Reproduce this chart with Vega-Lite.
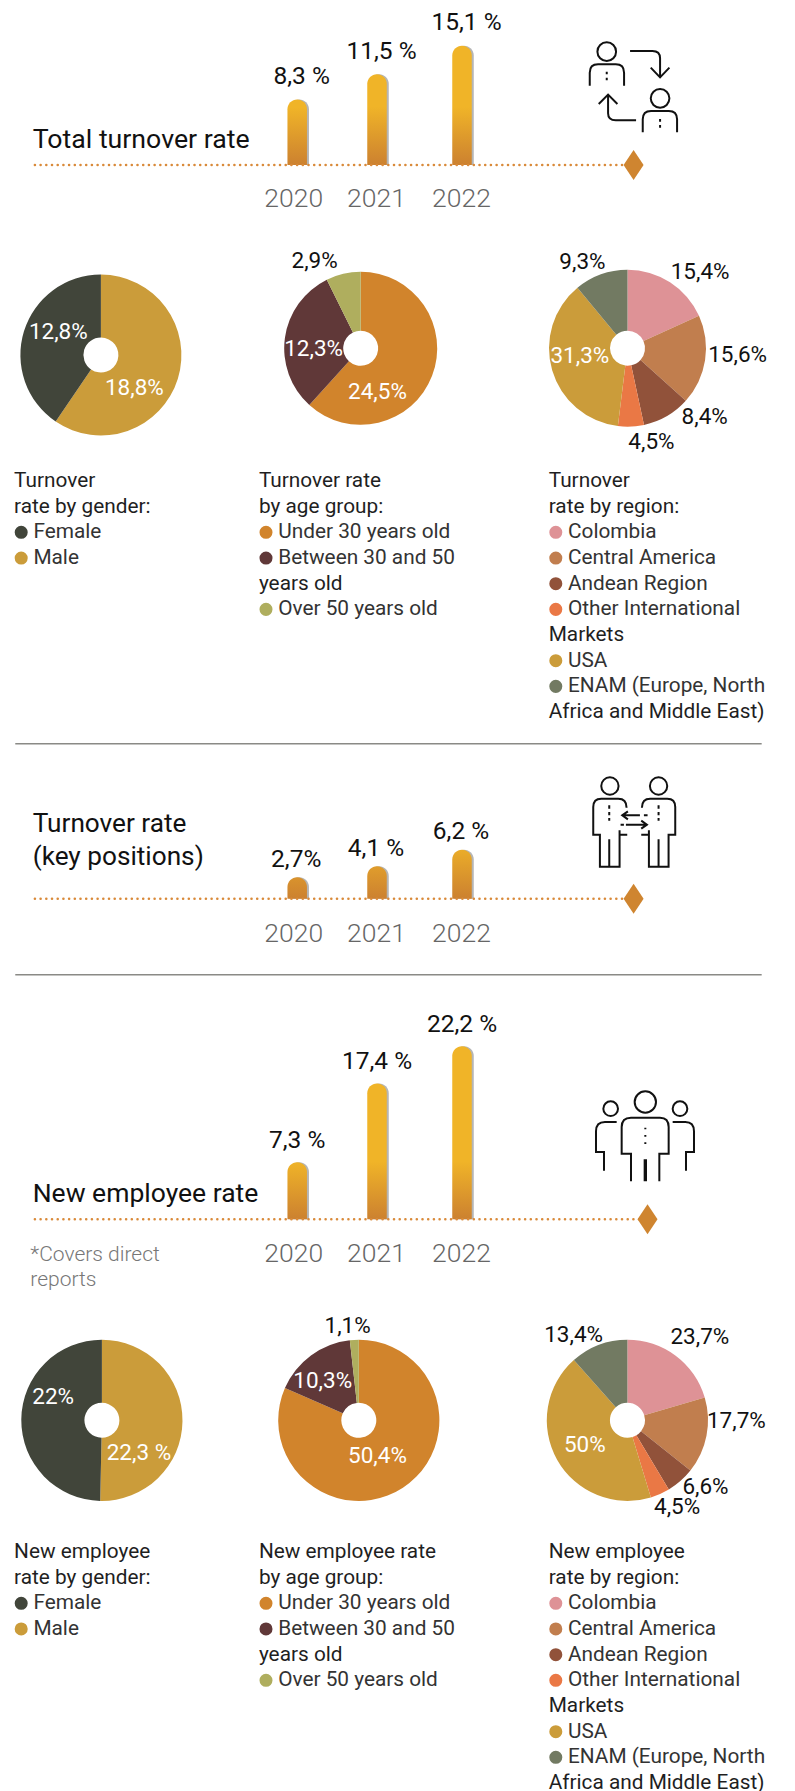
{
"$schema":"https://vega.github.io/schema/vega-lite/v6.json",
"padding":0,
"background":"white",
"spacing":0,
"config":{"view":{"stroke":null},"axis":{"grid":false},"text":{"font":"Roboto"}},
"vconcat":[
{"width":795,"height":240,
 "layer":[
  {"data":{"values":[{"year":2020,"value":8.3,"label":"8,3 %"},{"year":2021,"value":11.5,"label":"11,5 %"},{"year":2022,"value":15.1,"label":"15,1 %"}]},
   "encoding":{
   "x":{"field":"year","type":"quantitative","scale":{"domain":[2016,2020,2021,2022,2026],"range":[0,297.2,377,462,795],"nice":false,"zero":false},"axis":{"values":[2020,2021,2022],"format":"d","title":null,"domain":false,"ticks":false,"labelFont":"Roboto","labelFontWeight":300,"labelFontSize":26.5,"labelColor":"#666666","labelPadding":0,"offset":-54.5,"labelOffset":{"condition":{"test":"datum.value==2020","value":-4},"value":-1},"labelFlush":false,"labelOverlap":false}},
   "y":{"field":"value","type":"quantitative","stack":null,"scale":{"domain":[-9.494,20.886],"nice":false,"zero":false},"axis":null}},
   "layer":[
   {"mark":{"type":"bar","orient":"vertical","size":19.5,"xOffset":2,"color":"#b5b5b5","cornerRadiusEnd":9.7}},
   {"transform":[{"filter":"datum.year==2020"}],"mark":{"type":"bar","orient":"vertical","size":19.5,"cornerRadiusEnd":9.7,"color":{"gradient":"linear","x1":0,"x2":0,"y1":0,"y2":1,"stops":[{"offset":0,"color":"#f0b428"},{"offset":0.12,"color":"#f0b428"},{"offset":1,"color":"#cc8130"}]}}},
   {"transform":[{"filter":"datum.year==2021"}],"mark":{"type":"bar","orient":"vertical","size":19.5,"cornerRadiusEnd":9.7,"color":{"gradient":"linear","x1":0,"x2":0,"y1":0,"y2":1,"stops":[{"offset":0,"color":"#f0b428"},{"offset":0.356,"color":"#f0b428"},{"offset":1,"color":"#cc8130"}]}}},
   {"transform":[{"filter":"datum.year==2022"}],"mark":{"type":"bar","orient":"vertical","size":19.5,"cornerRadiusEnd":9.7,"color":{"gradient":"linear","x1":0,"x2":0,"y1":0,"y2":1,"stops":[{"offset":0,"color":"#f0b428"},{"offset":0.513,"color":"#f0b428"},{"offset":1,"color":"#cc8130"}]}}},
   {"mark":{"type":"text","font":"Roboto","fontSize":24.5,"color":"#111111","baseline":"middle","dx":4.5,"dy":-22.5},"encoding":{"text":{"field":"label"}}}
  ]},
  {"data":{"values":[{"line":"baseline"}]},"mark":{"type":"rule","color":"#d98a3a","strokeWidth":2.5,"strokeDash":[0.1,5.6],"strokeCap":"round"},"encoding":{"x":{"datum":2016.413,"type":"quantitative"},"x2":{"datum":2023.99},"y":{"datum":0,"type":"quantitative"}}},
  {"data":{"values":[{"caption":"Total turnover rate"}]},"mark":{"type":"text","font":"Roboto","fontSize":26.7,"color":"#111111","align":"left","baseline":"middle"},"encoding":{"x":{"datum":2016.383,"type":"quantitative"},"y":{"datum":3.16,"type":"quantitative"},"text":{"field":"caption"}}},
  {"data":{"values":[{"marker":"end"}]},"mark":{"type":"point","shape":"M0,-1.5L1,0L0,1.5L-1,0Z","size":400,"filled":true,"color":"#cf8530","opacity":1},"encoding":{"x":{"datum":2024.094,"type":"quantitative"},"y":{"datum":0,"type":"quantitative"}}},
  {"data":{"values":[{"icon":"rotation"}]},"mark":{"type":"point","size":0.4444,"filled":false,"stroke":"#111111","strokeWidth":2,"opacity":1,"shape":"M166,95A28,28 0 1,1 110,95A28,28 0 1,1 166,95ZM87,197V158Q87,133 112,133H165Q190,133 190,158V197M138,155V163M138,173V181M208,93H275Q298,93 298,115V170M270,143L298,172L326,143M326,235A28,28 0 1,1 270,235A28,28 0 1,1 326,235ZM246,337V298Q246,273 271,273H324Q349,273 349,298V337M298,297V305M298,315V323M226,301H165Q142,301 142,280V225M114,252L142,224L170,252"},"encoding":{"x":{"datum":2023.205,"type":"quantitative"},"y":{"datum":18.354,"type":"quantitative"}}}
 ]},
{"hconcat":[
 {"width":201.8,"height":230,"data":{"values":[{"i":1,"category":"Male","value":18.8,"label":"18,8%"},{"i":2,"category":"Female","value":12.8,"label":"12,8%"}]},
  "layer":[
  {"mark":{"type":"arc","outerRadius":80.5,"innerRadius":17.5},"encoding":{"theta":{"field":"value","type":"quantitative","stack":true},"order":{"field":"i"},"color":{"field":"category","type":"nominal","legend":null,"scale":{"domain":["Female","Male","Under 30 years old","Between 30 and 50 years old","Over 50 years old","Colombia","Central America","Andean Region","Other International Markets","USA","ENAM"],"range":["#41453a","#cb9c3a","#d1842c","#603838","#afae5e","#de9296","#c17e4e","#91523a","#ea7845","#cb9c3a","#727a62"]}}}},
  {"transform":[{"filter":"datum.i==1"}],"mark":{"type":"text","font":"Roboto","fontSize":22.5,"color":"white","baseline":"middle","dx":33.5,"dy":32.7},"encoding":{"text":{"field":"label"}}},
  {"transform":[{"filter":"datum.i==2"}],"mark":{"type":"text","font":"Roboto","fontSize":22.5,"color":"white","baseline":"middle","dx":-42.6,"dy":-23.3},"encoding":{"text":{"field":"label"}}}
 ]},
 {"width":317.4,"height":216.6,"data":{"values":[{"i":1,"category":"Under 30 years old","value":24.5,"label":"24,5%"},{"i":2,"category":"Between 30 and 50 years old","value":12.3,"label":"12,3%"},{"i":3,"category":"Over 50 years old","value":2.9,"label":"2,9%"}]},
  "layer":[
  {"mark":{"type":"arc","outerRadius":76.5,"innerRadius":17.5},"encoding":{"theta":{"field":"value","type":"quantitative","stack":true},"order":{"field":"i"},"color":{"field":"category","type":"nominal","legend":null,"scale":{"domain":["Female","Male","Under 30 years old","Between 30 and 50 years old","Over 50 years old","Colombia","Central America","Andean Region","Other International Markets","USA","ENAM"],"range":["#41453a","#cb9c3a","#d1842c","#603838","#afae5e","#de9296","#c17e4e","#91523a","#ea7845","#cb9c3a","#727a62"]}}}},
  {"transform":[{"filter":"datum.i==1"}],"mark":{"type":"text","font":"Roboto","fontSize":22.5,"color":"white","baseline":"middle","dx":16.8,"dy":43.4},"encoding":{"text":{"field":"label"}}},
  {"transform":[{"filter":"datum.i==2"}],"mark":{"type":"text","font":"Roboto","fontSize":22.5,"color":"white","baseline":"middle","dx":-47.1,"dy":0.7},"encoding":{"text":{"field":"label"}}},
  {"transform":[{"filter":"datum.i==3"}],"mark":{"type":"text","font":"Roboto","fontSize":22.5,"color":"#111111","baseline":"middle","dx":-46.1,"dy":-87.3},"encoding":{"text":{"field":"label"}}}
 ]},
 {"width":215,"height":216.4,"data":{"values":[{"i":1,"category":"Colombia","value":15.4,"label":"15,4%"},{"i":2,"category":"Central America","value":15.6,"label":"15,6%"},{"i":3,"category":"Andean Region","value":8.4,"label":"8,4%"},{"i":4,"category":"Other International Markets","value":4.5,"label":"4,5%"},{"i":5,"category":"USA","value":31.3,"label":"31,3%"},{"i":6,"category":"ENAM","value":9.3,"label":"9,3%"}]},
  "layer":[
  {"mark":{"type":"arc","outerRadius":78.5,"innerRadius":17.5},"encoding":{"theta":{"field":"value","type":"quantitative","stack":true},"order":{"field":"i"},"color":{"field":"category","type":"nominal","legend":null,"scale":{"domain":["Female","Male","Under 30 years old","Between 30 and 50 years old","Over 50 years old","Colombia","Central America","Andean Region","Other International Markets","USA","ENAM"],"range":["#41453a","#cb9c3a","#d1842c","#603838","#afae5e","#de9296","#c17e4e","#91523a","#ea7845","#cb9c3a","#727a62"]}}}},
  {"transform":[{"filter":"datum.i==1"}],"mark":{"type":"text","font":"Roboto","fontSize":22.5,"color":"#111111","baseline":"middle","dx":72.6,"dy":-76.5},"encoding":{"text":{"field":"label"}}},
  {"transform":[{"filter":"datum.i==2"}],"mark":{"type":"text","font":"Roboto","fontSize":22.5,"color":"#111111","baseline":"middle","dx":110.1,"dy":6.8},"encoding":{"text":{"field":"label"}}},
  {"transform":[{"filter":"datum.i==3"}],"mark":{"type":"text","font":"Roboto","fontSize":22.5,"color":"#111111","baseline":"middle","dx":77.2,"dy":68.5},"encoding":{"text":{"field":"label"}}},
  {"transform":[{"filter":"datum.i==4"}],"mark":{"type":"text","font":"Roboto","fontSize":22.5,"color":"#111111","baseline":"middle","dx":23.9,"dy":93.5},"encoding":{"text":{"field":"label"}}},
  {"transform":[{"filter":"datum.i==5"}],"mark":{"type":"text","font":"Roboto","fontSize":22.5,"color":"white","baseline":"middle","dx":-47.6,"dy":7.5},"encoding":{"text":{"field":"label"}}},
  {"transform":[{"filter":"datum.i==6"}],"mark":{"type":"text","font":"Roboto","fontSize":22.5,"color":"#111111","baseline":"middle","dx":-45.1,"dy":-86.5},"encoding":{"text":{"field":"label"}}}
 ]}
],"spacing":0,"bounds":"flush"},
{"hconcat":[
 {"width":259.6,"height":270,"data":{"values":[{"line":1,"kind":"plain","text":"Turnover"},{"line":2,"kind":"plain","text":"rate by gender:"},{"line":3,"kind":"item","text":"Female","category":"Female"},{"line":4,"kind":"item","text":"Male","category":"Male"}]},
  "encoding":{"y":{"field":"line","type":"quantitative","scale":{"domain":[0.649,11.167],"reverse":true,"zero":false,"nice":false},"axis":null}},
  "layer":[
  {"transform":[{"filter":"datum.kind=='plain'"}],"mark":{"type":"text","font":"Roboto","fontSize":20.8,"color":"#1f1f1f","align":"left","baseline":"middle"},"encoding":{"x":{"datum":0,"type":"quantitative","scale":{"domain":[-14.1,245.5],"nice":false,"zero":false},"axis":null},"text":{"field":"text"}}},
  {"transform":[{"filter":"datum.kind=='item'"}],"mark":{"type":"text","font":"Roboto","fontSize":20.8,"color":"#333333","align":"left","baseline":"middle"},"encoding":{"x":{"datum":19.3,"type":"quantitative","scale":{"domain":[-14.1,245.5],"nice":false,"zero":false},"axis":null},"text":{"field":"text"}}},
  {"transform":[{"filter":"datum.kind=='item'"}],"mark":{"type":"point","filled":true,"shape":"circle","size":170,"opacity":1},"encoding":{"x":{"datum":7.1,"type":"quantitative","scale":{"domain":[-14.1,245.5],"nice":false,"zero":false},"axis":null},"color":{"field":"category","type":"nominal","legend":null,"scale":{"domain":["Female","Male","Under 30 years old","Between 30 and 50 years old","Over 50 years old","Colombia","Central America","Andean Region","Other International Markets","USA","ENAM"],"range":["#41453a","#cb9c3a","#d1842c","#603838","#afae5e","#de9296","#c17e4e","#91523a","#ea7845","#cb9c3a","#727a62"]}}}}
 ]},
 {"width":290.6,"height":270,"data":{"values":[{"line":1,"kind":"plain","text":"Turnover rate"},{"line":2,"kind":"plain","text":"by age group:"},{"line":3,"kind":"item","text":"Under 30 years old","category":"Under 30 years old"},{"line":4,"kind":"item","text":"Between 30 and 50","category":"Between 30 and 50 years old"},{"line":5,"kind":"plain","text":"years old"},{"line":6,"kind":"item","text":"Over 50 years old","category":"Over 50 years old"}]},
  "encoding":{"y":{"field":"line","type":"quantitative","scale":{"domain":[0.649,11.167],"reverse":true,"zero":false,"nice":false},"axis":null}},
  "layer":[
  {"transform":[{"filter":"datum.kind=='plain'"}],"mark":{"type":"text","font":"Roboto","fontSize":20.8,"color":"#1f1f1f","align":"left","baseline":"middle"},"encoding":{"x":{"datum":0,"type":"quantitative","scale":{"domain":[1.1,291.7],"nice":false,"zero":false},"axis":null},"text":{"field":"text"}}},
  {"transform":[{"filter":"datum.kind=='item'"}],"mark":{"type":"text","font":"Roboto","fontSize":20.8,"color":"#333333","align":"left","baseline":"middle"},"encoding":{"x":{"datum":19.3,"type":"quantitative","scale":{"domain":[1.1,291.7],"nice":false,"zero":false},"axis":null},"text":{"field":"text"}}},
  {"transform":[{"filter":"datum.kind=='item'"}],"mark":{"type":"point","filled":true,"shape":"circle","size":170,"opacity":1},"encoding":{"x":{"datum":7.1,"type":"quantitative","scale":{"domain":[1.1,291.7],"nice":false,"zero":false},"axis":null},"color":{"field":"category","type":"nominal","legend":null,"scale":{"domain":["Female","Male","Under 30 years old","Between 30 and 50 years old","Over 50 years old","Colombia","Central America","Andean Region","Other International Markets","USA","ENAM"],"range":["#41453a","#cb9c3a","#d1842c","#603838","#afae5e","#de9296","#c17e4e","#91523a","#ea7845","#cb9c3a","#727a62"]}}}}
 ]},
 {"width":244.8,"height":270,"data":{"values":[{"line":1,"kind":"plain","text":"Turnover"},{"line":2,"kind":"plain","text":"rate by region:"},{"line":3,"kind":"item","text":"Colombia","category":"Colombia"},{"line":4,"kind":"item","text":"Central America","category":"Central America"},{"line":5,"kind":"item","text":"Andean Region","category":"Andean Region"},{"line":6,"kind":"item","text":"Other International","category":"Other International Markets"},{"line":7,"kind":"plain","text":"Markets"},{"line":8,"kind":"item","text":"USA","category":"USA"},{"line":9,"kind":"item","text":"ENAM (Europe, North","category":"ENAM"},{"line":10,"kind":"plain","text":"Africa and Middle East)"}]},
  "encoding":{"y":{"field":"line","type":"quantitative","scale":{"domain":[0.649,11.167],"reverse":true,"zero":false,"nice":false},"axis":null}},
  "layer":[
  {"transform":[{"filter":"datum.kind=='plain'"}],"mark":{"type":"text","font":"Roboto","fontSize":20.8,"color":"#1f1f1f","align":"left","baseline":"middle"},"encoding":{"x":{"datum":0,"type":"quantitative","scale":{"domain":[2.3,247.1],"nice":false,"zero":false},"axis":null},"text":{"field":"text"}}},
  {"transform":[{"filter":"datum.kind=='item'"}],"mark":{"type":"text","font":"Roboto","fontSize":20.8,"color":"#333333","align":"left","baseline":"middle"},"encoding":{"x":{"datum":19.3,"type":"quantitative","scale":{"domain":[2.3,247.1],"nice":false,"zero":false},"axis":null},"text":{"field":"text"}}},
  {"transform":[{"filter":"datum.kind=='item'"}],"mark":{"type":"point","filled":true,"shape":"circle","size":170,"opacity":1},"encoding":{"x":{"datum":7.1,"type":"quantitative","scale":{"domain":[2.3,247.1],"nice":false,"zero":false},"axis":null},"color":{"field":"category","type":"nominal","legend":null,"scale":{"domain":["Female","Male","Under 30 years old","Between 30 and 50 years old","Over 50 years old","Colombia","Central America","Andean Region","Other International Markets","USA","ENAM"],"range":["#41453a","#cb9c3a","#d1842c","#603838","#afae5e","#de9296","#c17e4e","#91523a","#ea7845","#cb9c3a","#727a62"]}}}}
 ]}
],"spacing":0,"bounds":"flush"},
{"width":795,"height":231,
 "layer":[
  {"data":{"values":[{"year":2020,"value":2.7,"label":"2,7%"},{"year":2021,"value":4.1,"label":"4,1 %"},{"year":2022,"value":6.2,"label":"6,2 %"}]},
   "encoding":{
   "x":{"field":"year","type":"quantitative","scale":{"domain":[2016,2020,2021,2022,2026],"range":[0,297.2,377,462,795],"nice":false,"zero":false},"axis":{"values":[2020,2021,2022],"format":"d","title":null,"domain":false,"ticks":false,"labelFont":"Roboto","labelFontWeight":300,"labelFontSize":26.5,"labelColor":"#666666","labelPadding":0,"offset":-52.5,"labelOffset":{"condition":{"test":"datum.value==2020","value":-4},"value":-1},"labelFlush":false,"labelOverlap":false}},
   "y":{"field":"value","type":"quantitative","stack":null,"scale":{"domain":[-9.405,19.835],"nice":false,"zero":false},"axis":null}},
   "layer":[
   {"mark":{"type":"bar","orient":"vertical","size":19.5,"xOffset":2,"color":"#b5b5b5","cornerRadiusEnd":9.7}},
   {"transform":[{"filter":"datum.year==2020"}],"mark":{"type":"bar","orient":"vertical","size":19.5,"cornerRadiusEnd":9.7,"color":{"gradient":"linear","x1":0,"x2":0,"y1":0,"y2":1,"stops":[{"offset":0,"color":"#d9932d"},{"offset":1,"color":"#cc8130"}]}}},
   {"transform":[{"filter":"datum.year==2021"}],"mark":{"type":"bar","orient":"vertical","size":19.5,"cornerRadiusEnd":9.7,"color":{"gradient":"linear","x1":0,"x2":0,"y1":0,"y2":1,"stops":[{"offset":0,"color":"#e09d2c"},{"offset":1,"color":"#cc8130"}]}}},
   {"transform":[{"filter":"datum.year==2022"}],"mark":{"type":"bar","orient":"vertical","size":19.5,"cornerRadiusEnd":9.7,"color":{"gradient":"linear","x1":0,"x2":0,"y1":0,"y2":1,"stops":[{"offset":0,"color":"#eaac29"},{"offset":1,"color":"#cc8130"}]}}},
   {"mark":{"type":"text","font":"Roboto","fontSize":24.5,"color":"#111111","baseline":"middle","dx":-1,"dy":-17.5},"encoding":{"text":{"field":"label"}}}
  ]},
  {"data":{"values":[{"line":"baseline"}]},"mark":{"type":"rule","color":"#d98a3a","strokeWidth":2.5,"strokeDash":[0.1,5.6],"strokeCap":"round"},"encoding":{"x":{"datum":2016.413,"type":"quantitative"},"x2":{"datum":2023.99},"y":{"datum":0,"type":"quantitative"}}},
  {"data":{"values":[{"line":"separator"}]},"mark":{"type":"rule","color":"#8a8a86","strokeWidth":1.5},"encoding":{"x":{"datum":2016.145,"type":"quantitative"},"x2":{"datum":2025.657},"y":{"datum":19.62,"type":"quantitative"}}},
  {"data":{"values":[{"caption":"Turnover rate\n(key positions)"}]},"mark":{"type":"text","font":"Roboto","fontSize":26.2,"color":"#111111","align":"left","baseline":"middle","lineBreak":"\n","lineHeight":33},"encoding":{"x":{"datum":2016.383,"type":"quantitative"},"y":{"datum":9.43,"type":"quantitative"},"text":{"field":"caption"}}},
  {"data":{"values":[{"marker":"end"}]},"mark":{"type":"point","shape":"M0,-1.5L1,0L0,1.5L-1,0Z","size":400,"filled":true,"color":"#cf8530","opacity":1},"encoding":{"x":{"datum":2024.094,"type":"quantitative"},"y":{"datum":0,"type":"quantitative"}}},
  {"data":{"values":[{"icon":"exchange"}]},"mark":{"type":"point","size":0.4444,"filled":false,"stroke":"#111111","strokeWidth":2,"opacity":1,"shape":"M144,72A26,26 0 1,1 92,72A26,26 0 1,1 144,72ZM290,72A26,26 0 1,1 238,72A26,26 0 1,1 290,72ZM168,137Q168,110 143,110H92Q68,110 68,135V218H88V314H147V205M147,218H170M116,232V314M116,130V140M116,150V160M116,168V176M214,137Q214,110 239,110H290Q314,110 314,135V218H294V314H235V205M235,218H212M264,232V314M264,130V140M264,150V160M264,168V176M231,160H220M208,160H155M172,148L155,160L172,172M150,188H160M166,188H228M212,176L229,188L212,200"},"encoding":{"x":{"datum":2023.325,"type":"quantitative"},"y":{"datum":17.304,"type":"quantitative"}}}
 ]},
{"width":795,"height":339,
 "layer":[
  {"data":{"values":[{"year":2020,"value":7.3,"label":"7,3 %"},{"year":2021,"value":17.4,"label":"17,4 %"},{"year":2022,"value":22.2,"label":"22,2 %"}]},
   "encoding":{
   "x":{"field":"year","type":"quantitative","scale":{"domain":[2016,2020,2021,2022,2026],"range":[0,297.2,377,462,795],"nice":false,"zero":false},"axis":{"values":[2020,2021,2022],"format":"d","title":null,"domain":false,"ticks":false,"labelFont":"Roboto","labelFontWeight":300,"labelFontSize":26.5,"labelColor":"#666666","labelPadding":0,"offset":-72,"labelOffset":{"condition":{"test":"datum.value==2020","value":-4},"value":-1},"labelFlush":false,"labelOverlap":false}},
   "y":{"field":"value","type":"quantitative","stack":null,"scale":{"domain":[-11.885,31.577],"nice":false,"zero":false},"axis":null}},
   "layer":[
   {"mark":{"type":"bar","orient":"vertical","size":19.5,"xOffset":2,"color":"#b5b5b5","cornerRadiusEnd":9.7}},
   {"transform":[{"filter":"datum.year==2020"}],"mark":{"type":"bar","orient":"vertical","size":19.5,"cornerRadiusEnd":9.7,"color":{"gradient":"linear","x1":0,"x2":0,"y1":0,"y2":1,"stops":[{"offset":0,"color":"#efb328"},{"offset":1,"color":"#cc8130"}]}}},
   {"transform":[{"filter":"datum.year==2021"}],"mark":{"type":"bar","orient":"vertical","size":19.5,"cornerRadiusEnd":9.7,"color":{"gradient":"linear","x1":0,"x2":0,"y1":0,"y2":1,"stops":[{"offset":0,"color":"#f0b428"},{"offset":0.574,"color":"#f0b428"},{"offset":1,"color":"#cc8130"}]}}},
   {"transform":[{"filter":"datum.year==2022"}],"mark":{"type":"bar","orient":"vertical","size":19.5,"cornerRadiusEnd":9.7,"color":{"gradient":"linear","x1":0,"x2":0,"y1":0,"y2":1,"stops":[{"offset":0,"color":"#f0b428"},{"offset":0.665,"color":"#f0b428"},{"offset":1,"color":"#cc8130"}]}}},
   {"mark":{"type":"text","font":"Roboto","fontSize":24.5,"color":"#111111","baseline":"middle","dx":0,"dy":-21.5},"encoding":{"text":{"field":"label"}}}
  ]},
  {"data":{"values":[{"line":"baseline"}]},"mark":{"type":"rule","color":"#d98a3a","strokeWidth":2.5,"strokeDash":[0.1,5.6],"strokeCap":"round"},"encoding":{"x":{"datum":2016.413,"type":"quantitative"},"x2":{"datum":2024.168},"y":{"datum":0,"type":"quantitative"}}},
  {"data":{"values":[{"line":"separator"}]},"mark":{"type":"rule","color":"#8a8a86","strokeWidth":1.5},"encoding":{"x":{"datum":2016.145,"type":"quantitative"},"x2":{"datum":2025.657},"y":{"datum":31.359,"type":"quantitative"}}},
  {"data":{"values":[{"caption":"New employee rate"}]},"mark":{"type":"text","font":"Roboto","fontSize":26.5,"color":"#111111","align":"left","baseline":"middle"},"encoding":{"x":{"datum":2016.383,"type":"quantitative"},"y":{"datum":3.22,"type":"quantitative"},"text":{"field":"caption"}}},
  {"data":{"values":[{"note":"*Covers direct\nreports"}]},"mark":{"type":"text","font":"Roboto","fontWeight":300,"fontSize":21,"color":"#777777","align":"left","baseline":"middle","lineBreak":"\n","lineHeight":25},"encoding":{"x":{"datum":2016.35,"type":"quantitative"},"y":{"datum":-4.53,"type":"quantitative"},"text":{"field":"note"}}},
  {"data":{"values":[{"marker":"end"}]},"mark":{"type":"point","shape":"M0,-1.5L1,0L0,1.5L-1,0Z","size":400,"filled":true,"color":"#cf8530","opacity":1},"encoding":{"x":{"datum":2024.264,"type":"quantitative"},"y":{"datum":0,"type":"quantitative"}}},
  {"data":{"values":[{"icon":"team"}]},"mark":{"type":"point","size":0.4444,"filled":false,"stroke":"#111111","strokeWidth":2,"opacity":1,"shape":"M228,90A32,32 0 1,1 164,90A32,32 0 1,1 228,90ZM114,110A22,22 0 1,1 70,110A22,22 0 1,1 114,110ZM322,110A22,22 0 1,1 278,110A22,22 0 1,1 322,110ZM153,328V245H125V165Q125,137 153,137H240Q266,137 266,165V245H238V328M194,262V328M198,262V328M196,167V172M196,189V194M196,211V216M110,150H75Q48,150 48,178V240H72V296M278,150H316Q342,150 342,178V240H318V296"},"encoding":{"x":{"datum":2023.44,"type":"quantitative"},"y":{"datum":18.885,"type":"quantitative"}}}
 ]},
{"hconcat":[
 {"width":203.8,"height":216.6,"data":{"values":[{"i":1,"category":"Male","value":22.3,"label":"22,3 %"},{"i":2,"category":"Female","value":22,"label":"22%"}]},
  "layer":[
  {"mark":{"type":"arc","outerRadius":80.6,"innerRadius":17.5},"encoding":{"theta":{"field":"value","type":"quantitative","stack":true},"order":{"field":"i"},"color":{"field":"category","type":"nominal","legend":null,"scale":{"domain":["Female","Male","Under 30 years old","Between 30 and 50 years old","Over 50 years old","Colombia","Central America","Andean Region","Other International Markets","USA","ENAM"],"range":["#41453a","#cb9c3a","#d1842c","#603838","#afae5e","#de9296","#c17e4e","#91523a","#ea7845","#cb9c3a","#727a62"]}}}},
  {"transform":[{"filter":"datum.i==1"}],"mark":{"type":"text","font":"Roboto","fontSize":22.5,"color":"white","baseline":"middle","dx":37,"dy":32.4},"encoding":{"text":{"field":"label"}}},
  {"transform":[{"filter":"datum.i==2"}],"mark":{"type":"text","font":"Roboto","fontSize":22.5,"color":"white","baseline":"middle","dx":-48.7,"dy":-23.3},"encoding":{"text":{"field":"label"}}}
 ]},
 {"width":309.6,"height":216.6,"data":{"values":[{"i":1,"category":"Under 30 years old","value":50.4,"label":"50,4%"},{"i":2,"category":"Between 30 and 50 years old","value":10.3,"label":"10,3%"},{"i":3,"category":"Over 50 years old","value":1.1,"label":"1,1%"}]},
  "layer":[
  {"mark":{"type":"arc","outerRadius":80.6,"innerRadius":17.5},"encoding":{"theta":{"field":"value","type":"quantitative","stack":true},"order":{"field":"i"},"color":{"field":"category","type":"nominal","legend":null,"scale":{"domain":["Female","Male","Under 30 years old","Between 30 and 50 years old","Over 50 years old","Colombia","Central America","Andean Region","Other International Markets","USA","ENAM"],"range":["#41453a","#cb9c3a","#d1842c","#603838","#afae5e","#de9296","#c17e4e","#91523a","#ea7845","#cb9c3a","#727a62"]}}}},
  {"transform":[{"filter":"datum.i==1"}],"mark":{"type":"text","font":"Roboto","fontSize":22.5,"color":"white","baseline":"middle","dx":18.7,"dy":36},"encoding":{"text":{"field":"label"}}},
  {"transform":[{"filter":"datum.i==2"}],"mark":{"type":"text","font":"Roboto","fontSize":22.5,"color":"white","baseline":"middle","dx":-36.1,"dy":-39.3},"encoding":{"text":{"field":"label"}}},
  {"transform":[{"filter":"datum.i==3"}],"mark":{"type":"text","font":"Roboto","fontSize":22.5,"color":"#111111","baseline":"middle","dx":-11.2,"dy":-94},"encoding":{"text":{"field":"label"}}}
 ]},
 {"width":226.8,"height":216.6,"data":{"values":[{"i":1,"category":"Colombia","value":23.7,"label":"23,7%"},{"i":2,"category":"Central America","value":17.7,"label":"17,7%"},{"i":3,"category":"Andean Region","value":6.6,"label":"6,6%"},{"i":4,"category":"Other International Markets","value":4.5,"label":"4,5%"},{"i":5,"category":"USA","value":50,"label":"50%"},{"i":6,"category":"ENAM","value":13.4,"label":"13,4%"}]},
  "layer":[
  {"mark":{"type":"arc","outerRadius":80.6,"innerRadius":17.5},"encoding":{"theta":{"field":"value","type":"quantitative","stack":true},"order":{"field":"i"},"color":{"field":"category","type":"nominal","legend":null,"scale":{"domain":["Female","Male","Under 30 years old","Between 30 and 50 years old","Over 50 years old","Colombia","Central America","Andean Region","Other International Markets","USA","ENAM"],"range":["#41453a","#cb9c3a","#d1842c","#603838","#afae5e","#de9296","#c17e4e","#91523a","#ea7845","#cb9c3a","#727a62"]}}}},
  {"transform":[{"filter":"datum.i==1"}],"mark":{"type":"text","font":"Roboto","fontSize":22.5,"color":"#111111","baseline":"middle","dx":72.5,"dy":-83.3},"encoding":{"text":{"field":"label"}}},
  {"transform":[{"filter":"datum.i==2"}],"mark":{"type":"text","font":"Roboto","fontSize":22.5,"color":"#111111","baseline":"middle","dx":109,"dy":0.7},"encoding":{"text":{"field":"label"}}},
  {"transform":[{"filter":"datum.i==3"}],"mark":{"type":"text","font":"Roboto","fontSize":22.5,"color":"#111111","baseline":"middle","dx":78.1,"dy":66.7},"encoding":{"text":{"field":"label"}}},
  {"transform":[{"filter":"datum.i==4"}],"mark":{"type":"text","font":"Roboto","fontSize":22.5,"color":"#111111","baseline":"middle","dx":49.7,"dy":86.7},"encoding":{"text":{"field":"label"}}},
  {"transform":[{"filter":"datum.i==5"}],"mark":{"type":"text","font":"Roboto","fontSize":22.5,"color":"white","baseline":"middle","dx":-42.6,"dy":24.4},"encoding":{"text":{"field":"label"}}},
  {"transform":[{"filter":"datum.i==6"}],"mark":{"type":"text","font":"Roboto","fontSize":22.5,"color":"#111111","baseline":"middle","dx":-53.8,"dy":-85},"encoding":{"text":{"field":"label"}}}
 ]}
],"spacing":0,"bounds":"flush"},
{"hconcat":[
 {"width":259.6,"height":264.4,"data":{"values":[{"line":1,"kind":"plain","text":"New employee"},{"line":2,"kind":"plain","text":"rate by gender:"},{"line":3,"kind":"item","text":"Female","category":"Female"},{"line":4,"kind":"item","text":"Male","category":"Male"}]},
  "encoding":{"y":{"field":"line","type":"quantitative","scale":{"domain":[0.105,10.405],"reverse":true,"zero":false,"nice":false},"axis":null}},
  "layer":[
  {"transform":[{"filter":"datum.kind=='plain'"}],"mark":{"type":"text","font":"Roboto","fontSize":20.8,"color":"#1f1f1f","align":"left","baseline":"middle"},"encoding":{"x":{"datum":0,"type":"quantitative","scale":{"domain":[-14.1,245.5],"nice":false,"zero":false},"axis":null},"text":{"field":"text"}}},
  {"transform":[{"filter":"datum.kind=='item'"}],"mark":{"type":"text","font":"Roboto","fontSize":20.8,"color":"#333333","align":"left","baseline":"middle"},"encoding":{"x":{"datum":19.3,"type":"quantitative","scale":{"domain":[-14.1,245.5],"nice":false,"zero":false},"axis":null},"text":{"field":"text"}}},
  {"transform":[{"filter":"datum.kind=='item'"}],"mark":{"type":"point","filled":true,"shape":"circle","size":170,"opacity":1},"encoding":{"x":{"datum":7.1,"type":"quantitative","scale":{"domain":[-14.1,245.5],"nice":false,"zero":false},"axis":null},"color":{"field":"category","type":"nominal","legend":null,"scale":{"domain":["Female","Male","Under 30 years old","Between 30 and 50 years old","Over 50 years old","Colombia","Central America","Andean Region","Other International Markets","USA","ENAM"],"range":["#41453a","#cb9c3a","#d1842c","#603838","#afae5e","#de9296","#c17e4e","#91523a","#ea7845","#cb9c3a","#727a62"]}}}}
 ]},
 {"width":290.6,"height":264.4,"data":{"values":[{"line":1,"kind":"plain","text":"New employee  rate"},{"line":2,"kind":"plain","text":"by age group:"},{"line":3,"kind":"item","text":"Under 30 years old","category":"Under 30 years old"},{"line":4,"kind":"item","text":"Between 30 and 50","category":"Between 30 and 50 years old"},{"line":5,"kind":"plain","text":"years old"},{"line":6,"kind":"item","text":"Over 50 years old","category":"Over 50 years old"}]},
  "encoding":{"y":{"field":"line","type":"quantitative","scale":{"domain":[0.105,10.405],"reverse":true,"zero":false,"nice":false},"axis":null}},
  "layer":[
  {"transform":[{"filter":"datum.kind=='plain'"}],"mark":{"type":"text","font":"Roboto","fontSize":20.8,"color":"#1f1f1f","align":"left","baseline":"middle"},"encoding":{"x":{"datum":0,"type":"quantitative","scale":{"domain":[1.1,291.7],"nice":false,"zero":false},"axis":null},"text":{"field":"text"}}},
  {"transform":[{"filter":"datum.kind=='item'"}],"mark":{"type":"text","font":"Roboto","fontSize":20.8,"color":"#333333","align":"left","baseline":"middle"},"encoding":{"x":{"datum":19.3,"type":"quantitative","scale":{"domain":[1.1,291.7],"nice":false,"zero":false},"axis":null},"text":{"field":"text"}}},
  {"transform":[{"filter":"datum.kind=='item'"}],"mark":{"type":"point","filled":true,"shape":"circle","size":170,"opacity":1},"encoding":{"x":{"datum":7.1,"type":"quantitative","scale":{"domain":[1.1,291.7],"nice":false,"zero":false},"axis":null},"color":{"field":"category","type":"nominal","legend":null,"scale":{"domain":["Female","Male","Under 30 years old","Between 30 and 50 years old","Over 50 years old","Colombia","Central America","Andean Region","Other International Markets","USA","ENAM"],"range":["#41453a","#cb9c3a","#d1842c","#603838","#afae5e","#de9296","#c17e4e","#91523a","#ea7845","#cb9c3a","#727a62"]}}}}
 ]},
 {"width":244.8,"height":264.4,"data":{"values":[{"line":1,"kind":"plain","text":"New employee"},{"line":2,"kind":"plain","text":"rate by region:"},{"line":3,"kind":"item","text":"Colombia","category":"Colombia"},{"line":4,"kind":"item","text":"Central America","category":"Central America"},{"line":5,"kind":"item","text":"Andean Region","category":"Andean Region"},{"line":6,"kind":"item","text":"Other International","category":"Other International Markets"},{"line":7,"kind":"plain","text":"Markets"},{"line":8,"kind":"item","text":"USA","category":"USA"},{"line":9,"kind":"item","text":"ENAM (Europe, North","category":"ENAM"},{"line":10,"kind":"plain","text":"Africa and Middle East)"}]},
  "encoding":{"y":{"field":"line","type":"quantitative","scale":{"domain":[0.105,10.405],"reverse":true,"zero":false,"nice":false},"axis":null}},
  "layer":[
  {"transform":[{"filter":"datum.kind=='plain'"}],"mark":{"type":"text","font":"Roboto","fontSize":20.8,"color":"#1f1f1f","align":"left","baseline":"middle"},"encoding":{"x":{"datum":0,"type":"quantitative","scale":{"domain":[2.3,247.1],"nice":false,"zero":false},"axis":null},"text":{"field":"text"}}},
  {"transform":[{"filter":"datum.kind=='item'"}],"mark":{"type":"text","font":"Roboto","fontSize":20.8,"color":"#333333","align":"left","baseline":"middle"},"encoding":{"x":{"datum":19.3,"type":"quantitative","scale":{"domain":[2.3,247.1],"nice":false,"zero":false},"axis":null},"text":{"field":"text"}}},
  {"transform":[{"filter":"datum.kind=='item'"}],"mark":{"type":"point","filled":true,"shape":"circle","size":170,"opacity":1},"encoding":{"x":{"datum":7.1,"type":"quantitative","scale":{"domain":[2.3,247.1],"nice":false,"zero":false},"axis":null},"color":{"field":"category","type":"nominal","legend":null,"scale":{"domain":["Female","Male","Under 30 years old","Between 30 and 50 years old","Over 50 years old","Colombia","Central America","Andean Region","Other International Markets","USA","ENAM"],"range":["#41453a","#cb9c3a","#d1842c","#603838","#afae5e","#de9296","#c17e4e","#91523a","#ea7845","#cb9c3a","#727a62"]}}}}
 ]}
],"spacing":0,"bounds":"flush"}
]}
